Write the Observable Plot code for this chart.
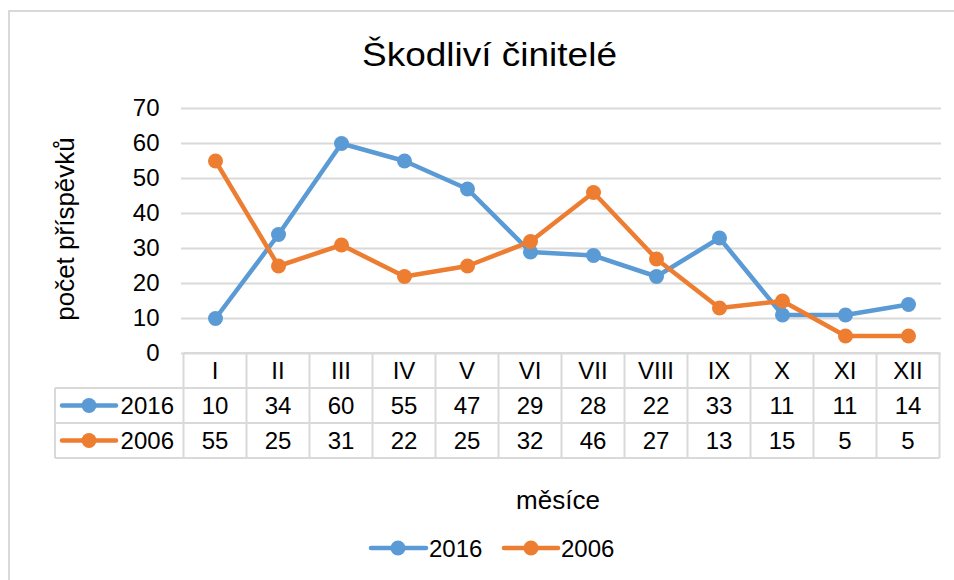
<!DOCTYPE html>
<html>
<head>
<meta charset="utf-8">
<script src="https://cdn.jsdelivr.net/npm/d3@7"></script>
<script src="https://cdn.jsdelivr.net/npm/@observablehq/plot@0.6"></script>
<style>
  html, body { margin: 0; padding: 0; background: #fff; overflow: hidden; }
  #chart { position: relative; width: 954px; height: 580px; overflow: hidden; }
</style>
</head>
<body>
<div id="chart"></div>
<script>
const months = ["I", "II", "III", "IV", "V", "VI", "VII", "VIII", "IX", "X", "XI", "XII"];
const values2016 = [10, 34, 60, 55, 47, 29, 28, 22, 33, 11, 11, 14];
const values2006 = [55, 25, 31, 22, 25, 32, 46, 27, 13, 15, 5, 5];
const seriesNames = ["2016", "2006"];
const seriesColors = ["#5b9bd5", "#ed7d31"];
const yTicks = [0, 10, 20, 30, 40, 50, 60, 70];
const titleText = "Škodliví činitelé";
const yLabel = "počet příspěvků";
const xLabel = "měsíce";

const seriesValues = [values2016, values2006];
const data = seriesNames.flatMap((name, s) =>
  months.map((m, i) => ({ month: m, year: name, value: seriesValues[s][i] }))
);

const FONT = "'Liberation Sans', Arial, sans-serif";
const GRID = "#d9d9d9";
const FS = 24;

const seriesMarks = seriesNames.flatMap((name) => {
  const d = data.filter((r) => r.year === name);
  return [
    Plot.line(d, { x: "month", y: "value", stroke: "year", strokeWidth: 4.5, strokeLinejoin: "round", strokeLinecap: "round" }),
    Plot.dot(d, { x: "month", y: "value", fill: "year", r: 7.5 })
  ];
});

const plot = Plot.plot({
  width: 954,
  height: 580,
  marginTop: 108,
  marginBottom: 227,
  marginLeft: 181,
  marginRight: 13,
  style: { fontFamily: FONT, fontSize: FS + "px", color: "#000", background: "transparent", overflow: "hidden" },
  x: { type: "point", domain: months, padding: 0.5, axis: null },
  y: { domain: [0, 70] },
  color: { domain: seriesNames, range: seriesColors },
  marks: [
    Plot.gridY(yTicks, { stroke: GRID, strokeOpacity: 1, strokeWidth: 2 }),
    Plot.axisY(yTicks, { tickSize: 0, tickPadding: 22, label: null, fontSize: FS, fill: "#000" }),
    ...seriesMarks
  ]
});

document.getElementById("chart").appendChild(plot);

const xs = plot.scale("x");
const ys = plot.scale("y");
const colorOf = (name) => seriesColors[seriesNames.indexOf(name)];
const svg = d3.select(plot);

// outer chart-area border
svg.insert("rect", ":first-child")
  .attr("x", 9).attr("y", 11).attr("width", 1000).attr("height", 1000)
  .attr("fill", "none").attr("stroke", GRID).attr("stroke-width", 2);

// title
svg.append("text")
  .attr("x", 489.5).attr("y", 66)
  .attr("text-anchor", "middle")
  .attr("font-family", FONT).attr("font-size", 34).attr("fill", "#000")
  .attr("textLength", 255).attr("lengthAdjust", "spacingAndGlyphs")
  .text(titleText);

// y axis label
svg.append("text")
  .attr("transform", "translate(74,229) rotate(-90)")
  .attr("text-anchor", "middle")
  .attr("font-family", FONT).attr("font-size", 26).attr("fill", "#000")
  .text(yLabel);

// data table
const step = xs.apply(months[1]) - xs.apply(months[0]);
const tLeft = xs.apply(months[0]) - step / 2;
const tRight = xs.apply(months[months.length - 1]) + step / 2;
const y0 = ys.apply(0);
const rowH = 35;
const labelLeft = 55;
const nRows = seriesNames.length + 1;
const tbl = svg.append("g").attr("stroke", GRID).attr("stroke-width", 2);
tbl.append("line").attr("x1", tLeft).attr("x2", tRight).attr("y1", y0).attr("y2", y0);
for (let r = 1; r < nRows + 1; r++) {
  tbl.append("line").attr("x1", labelLeft).attr("x2", tRight).attr("y1", y0 + r * rowH).attr("y2", y0 + r * rowH);
}
tbl.append("line").attr("x1", labelLeft).attr("x2", labelLeft).attr("y1", y0 + rowH).attr("y2", y0 + nRows * rowH);
months.forEach((m) => {
  const xl = xs.apply(m) - step / 2;
  tbl.append("line").attr("x1", xl).attr("x2", xl).attr("y1", y0).attr("y2", y0 + nRows * rowH);
});
tbl.append("line").attr("x1", tRight).attr("x2", tRight).attr("y1", y0).attr("y2", y0 + nRows * rowH);

const txt = svg.append("g").attr("font-family", FONT).attr("font-size", FS).attr("fill", "#000").attr("text-anchor", "middle");
months.forEach((m) => {
  txt.append("text").attr("x", xs.apply(m)).attr("y", y0 + rowH / 2).attr("dy", "0.36em").text(m);
});
seriesNames.forEach((name, s) => {
  const cy = y0 + (s + 1) * rowH + rowH / 2;
  seriesValues[s].forEach((v, i) => {
    txt.append("text").attr("x", xs.apply(months[i])).attr("y", cy).attr("dy", "0.36em").text(v);
  });
  // legend key inside table
  svg.append("line").attr("x1", 62).attr("x2", 116).attr("y1", cy).attr("y2", cy)
    .attr("stroke", colorOf(name)).attr("stroke-width", 4.5).attr("stroke-linecap", "round");
  svg.append("circle").attr("cx", 89).attr("cy", cy).attr("r", 7.5).attr("fill", colorOf(name));
  svg.append("text").attr("x", 174).attr("y", cy).attr("dy", "0.36em")
    .attr("text-anchor", "end").attr("font-family", FONT).attr("font-size", FS).attr("fill", "#000").text(name);
});

// x axis title
svg.append("text")
  .attr("x", 558).attr("y", 500).attr("dy", "0.36em")
  .attr("text-anchor", "middle")
  .attr("font-family", FONT).attr("font-size", 26).attr("fill", "#000")
  .text(xLabel);

// bottom legend
const legendItems = [{ x1: 371, x2: 426, cx: 398, tx: 429 }, { x1: 504, x2: 558, cx: 531, tx: 561 }];
seriesNames.forEach((name, s) => {
  const L = legendItems[s];
  const ly = 548;
  svg.append("line").attr("x1", L.x1).attr("x2", L.x2).attr("y1", ly).attr("y2", ly)
    .attr("stroke", colorOf(name)).attr("stroke-width", 4.5).attr("stroke-linecap", "round");
  svg.append("circle").attr("cx", L.cx).attr("cy", ly).attr("r", 7.5).attr("fill", colorOf(name));
  svg.append("text").attr("x", L.tx).attr("y", ly).attr("dy", "0.36em")
    .attr("text-anchor", "start")
    .attr("font-family", FONT).attr("font-size", FS).attr("fill", "#000").text(name);
});
</script>
</body>
</html>
